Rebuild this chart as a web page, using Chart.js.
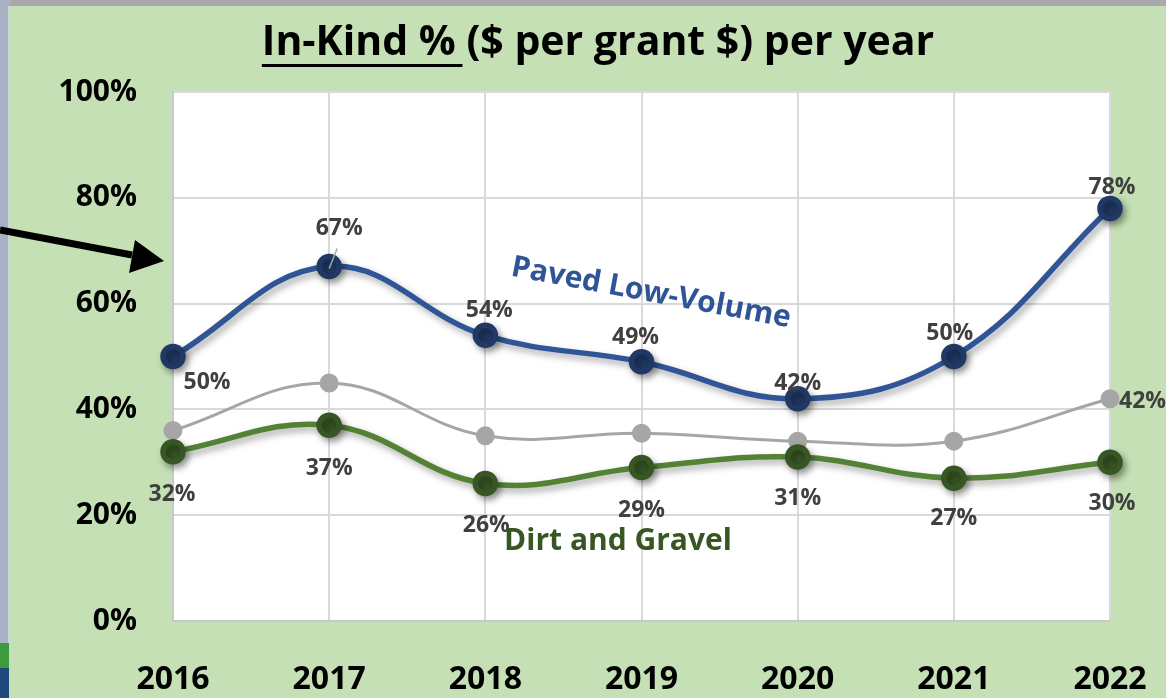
<!DOCTYPE html>
<html>
<head>
<meta charset="utf-8">
<script src="https://cdn.jsdelivr.net/npm/chart.js@4"></script>
<style>
  html, body { margin: 0; padding: 0; background: #c5e0b4; }
  #wrap { position: relative; width: 1166px; height: 698px; }
</style>
</head>
<body>
<div id="wrap"><canvas id="inKindChart" width="1166" height="698"></canvas></div>
<script>
// 연도별 인카인드 비율 데이터
const years = ['2016', '2017', '2018', '2019', '2020', '2021', '2022'];
const pavedLowVolume = [50, 67, 54, 49, 42, 50, 78];
const totalAvg = [36, 45, 35, 35.5, 34, 34, 42];
const dirtAndGravel = [32, 37, 26, 29, 31, 27, 30];
const yTicks = [0, 20, 40, 60, 80, 100];

// 라벨 배치 (점 기준 오프셋)
const pavedLabelShift = [[34, 26], [10, -38], [4, -25], [-6, -24], [0, -15], [-4, -23], [2, -21]];
const dirtLabelShift = [[-1, 43], [0, 43], [1, 42], [0, 43], [0, 41], [0, 40], [2, 41]];
const greyLabelShift = [null, null, null, null, null, null, [31, 3]];

const FONT = '"Open Sans", "Noto Sans", sans-serif';

// 배경, 창 테두리, 화살표
const framePlugin = {
    id: 'frame',
    beforeDraw(chart) {
        const ctx = chart.ctx;
        ctx.save();
        ctx.fillStyle = '#c5e0b4';
        ctx.fillRect(0, 0, chart.width, chart.height);
        ctx.fillStyle = '#a7a9ad';
        ctx.fillRect(0, 0, chart.width, 6);
        ctx.fillStyle = '#a9b2c4';
        ctx.fillRect(0, 0, 10, chart.height);
        ctx.fillStyle = '#d0d4dc';
        ctx.fillRect(8, 6, 2, chart.height);
        ctx.fillStyle = '#3d9b3f';
        ctx.fillRect(0, 643, 9, 25);
        ctx.fillStyle = '#1d4a7a';
        ctx.fillRect(0, 668, 9, 30);
        // 플롯 영역 흰색
        const a = chart.chartArea;
        ctx.fillStyle = '#ffffff';
        ctx.fillRect(a.left, a.top, a.right - a.left, a.bottom - a.top);
        ctx.restore();
    },
    afterDraw(chart) {
        const ctx = chart.ctx;
        ctx.save();
        // 화살표
        ctx.strokeStyle = '#000';
        ctx.lineWidth = 7;
        ctx.beginPath();
        ctx.moveTo(0, 230);
        ctx.lineTo(132, 255);
        ctx.stroke();
        ctx.fillStyle = '#000';
        ctx.beginPath();
        ctx.moveTo(164, 261);
        ctx.lineTo(129, 273);
        ctx.lineTo(135, 240);
        ctx.closePath();
        ctx.fill();

        // 시리즈 이름
        ctx.font = 'bold 30px ' + FONT;
        ctx.fillStyle = '#2f5597';
        ctx.textAlign = 'center';
        ctx.textBaseline = 'middle';
        ctx.translate(651, 293);
        ctx.rotate(10.5 * Math.PI / 180);
        ctx.fillText('Paved Low-Volume', 0, 0);
        ctx.setTransform(1, 0, 0, 1, 0, 0);
        ctx.fillStyle = '#375623';
        ctx.fillText('Dirt and Gravel', 618, 541);
        ctx.restore();
    }
};

// 제목 (앞부분 밑줄)
const titlePlugin = {
    id: 'underlineTitle',
    afterDraw(chart) {
        const ctx = chart.ctx;
        const part1 = 'In-Kind % ';
        const part2 = '($ per grant $) per year';
        ctx.save();
        ctx.font = 'bold 41px ' + FONT;
        ctx.fillStyle = '#000';
        ctx.textBaseline = 'alphabetic';
        ctx.textAlign = 'left';
        const w1 = ctx.measureText(part1).width;
        const w2 = ctx.measureText(part2).width;
        const x0 = 598 - (w1 + w2) / 2;
        ctx.fillText(part1, x0, 55);
        ctx.fillText(part2, x0 + w1, 55);
        ctx.fillRect(x0, 64, w1 - 4, 3);
        ctx.restore();
    }
};

// 그림자 효과
const shadowPlugin = {
    id: 'lineShadow',
    beforeDatasetDraw(chart, args) {
        const ctx = chart.ctx;
        ctx.save();
        if (args.index !== 1) {
            ctx.shadowColor = 'rgba(0, 0, 0, 0.35)';
            ctx.shadowBlur = 7;
            ctx.shadowOffsetX = 3;
            ctx.shadowOffsetY = 4;
        }
    },
    afterDatasetDraw(chart) {
        chart.ctx.restore();
    }
};

// 데이터 라벨
const labelPlugin = {
    id: 'valueLabels',
    afterDatasetsDraw(chart) {
        const ctx = chart.ctx;
        const shifts = [pavedLabelShift, greyLabelShift, dirtLabelShift];
        ctx.save();
        ctx.font = 'bold 23px ' + FONT;
        ctx.fillStyle = '#404040';
        ctx.textBaseline = 'middle';
        chart.data.datasets.forEach((ds, i) => {
            const meta = chart.getDatasetMeta(i);
            meta.data.forEach((pt, j) => {
                const s = shifts[i][j];
                if (!s) return;
                const txt = Math.round(ds.data[j]) + '%';
                if (i === 1) {
                    ctx.textAlign = 'left';
                    ctx.fillText(txt, pt.x + s[0] - 22, pt.y + s[1]);
                } else {
                    ctx.textAlign = 'center';
                    ctx.fillText(txt, pt.x + s[0], pt.y + s[1]);
                }
            });
        });
        // 2017 리더선
        const p = chart.getDatasetMeta(0).data[1];
        ctx.strokeStyle = '#a6a6a6';
        ctx.lineWidth = 1.5;
        ctx.beginPath();
        ctx.moveTo(p.x, p.y + 2);
        ctx.lineTo(p.x + 8, p.y - 18);
        ctx.stroke();
        ctx.restore();
    }
};

const ctx = document.getElementById('inKindChart').getContext('2d');
const inKindChart = new Chart(ctx, {
    type: 'line',
    data: {
        labels: years,
        datasets: [
            {
                label: 'Paved Low-Volume',
                data: pavedLowVolume,
                borderColor: '#2f5597',
                backgroundColor: '#203864',
                pointBackgroundColor: '#203864',
                pointBorderColor: '#203864',
                borderWidth: 5.5,
                pointRadius: 10,
                tension: 0.4,
                clip: false,
                order: 1
            },
            {
                label: 'Average',
                data: totalAvg,
                borderColor: '#a6a6a6',
                backgroundColor: '#a6a6a6',
                pointBackgroundColor: '#a6a6a6',
                pointBorderColor: '#a6a6a6',
                borderWidth: 3,
                pointRadius: 8,
                tension: 0.4,
                clip: false,
                order: 3
            },
            {
                label: 'Dirt and Gravel',
                data: dirtAndGravel,
                borderColor: '#548235',
                backgroundColor: '#375623',
                pointBackgroundColor: '#375623',
                pointBorderColor: '#375623',
                borderWidth: 5.5,
                pointRadius: 10,
                tension: 0.4,
                clip: false,
                order: 2
            }
        ]
    },
    options: {
        responsive: false,
        animation: false,
        layout: {
            padding: { left: 10, right: 56, top: 92, bottom: 0 }
        },
        plugins: {
            legend: { display: false },
            title: { display: false },
            tooltip: { enabled: false }
        },
        scales: {
            x: {
                offset: false,
                grid: { color: '#d9d9d9', lineWidth: 2, drawTicks: false },
                border: { color: '#c8c8c8', width: 2 },
                ticks: {
                    color: '#000',
                    padding: 40,
                    font: { family: FONT, size: 32, weight: 'bold' }
                },
                afterFit(scale) {
                    scale.height = 77;
                    scale.paddingLeft = 0;
                    scale.paddingRight = 0;
                }
            },
            y: {
                min: 0,
                max: 100,
                grid: { color: '#d9d9d9', lineWidth: 2, drawTicks: false },
                border: { color: '#c8c8c8', width: 2 },
                afterBuildTicks(scale) {
                    scale.ticks = yTicks.map(v => ({ value: v }));
                },
                ticks: {
                    color: '#000',
                    padding: 36,
                    font: { family: FONT, size: 30, weight: 'bold' },
                    callback: v => v + '%'
                },
                afterFit(scale) {
                    scale.width = 163;
                    scale.paddingTop = 0;
                    scale.paddingBottom = 0;
                }
            }
        }
    },
    plugins: [framePlugin, shadowPlugin, labelPlugin, titlePlugin]
});
</script>
</body>
</html>
